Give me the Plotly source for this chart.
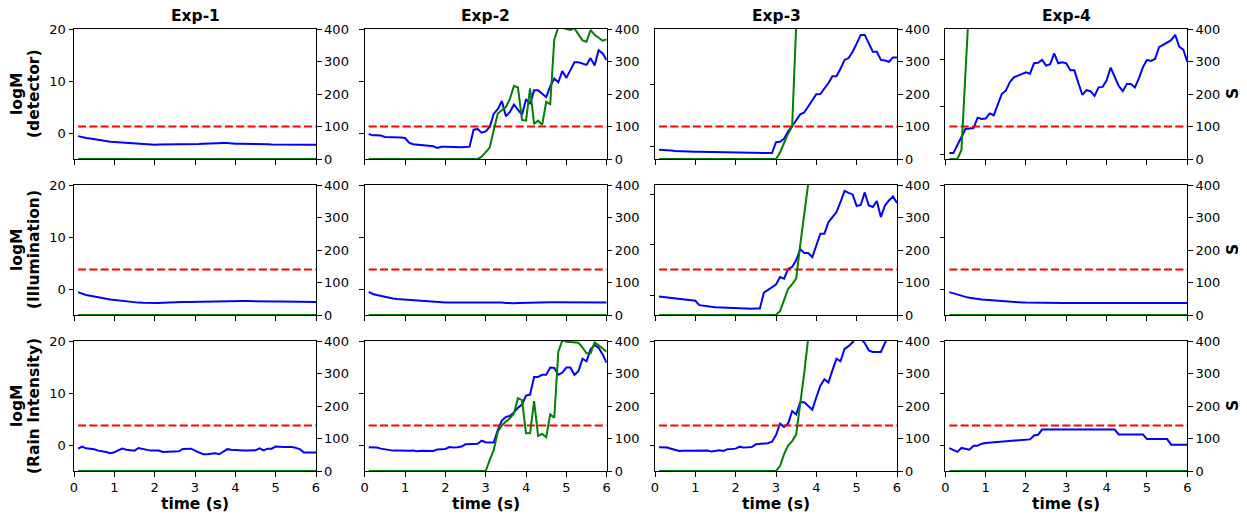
import plotly.graph_objects as go

# ---------------- data ----------------
T = [round(0.1 * i, 1) for i in range(1, 61)]          # time (s)
EXPERIMENTS = ["Exp-1", "Exp-2", "Exp-3", "Exp-4"]
ROW_NAMES = ["(detector)", "(Illumination)", "(Rain Intensity)"]
THRESHOLD_S = [100, 140, 140]                          # red dashed level per row (S axis)
X_TICKS = [0, 1, 2, 3, 4, 5, 6]
S_TICKS = [0, 100, 200, 300, 400]
LOGM_TICKS = [0, 10, 20]
LOGM_FIXED = [-5, 20]

# logM (blue), row 1
B_1_1 = [-0.6, -0.8, -0.95, -1.05, -1.2, -1.35, -1.5, -1.6, -1.7, -1.75,
         -1.8, -1.85, -1.9, -1.95, -2.0, -2.05, -2.15, -2.2, -2.25, -2.25,
         -2.2, -2.2, -2.2, -2.15, -2.2, -2.15, -2.1, -2.1, -2.1, -2.15,
         -2.1, -2.05, -2.0, -2.05, -2.0, -1.95, -1.9, -1.9, -2.0, -2.05,
         -2.05, -2.05, -2.1, -2.05, -2.1, -2.1, -2.15, -2.15, -2.2, -2.2,
         -2.2, -2.25, -2.25, -2.25, -2.25, -2.25, -2.25, -2.25, -2.25, -2.25]
B_1_2 = [-0.2, -0.45, -0.45, -0.5, -0.77, -0.77, -0.9, -0.8, -0.85, -0.96,
         -1.86, -2.15, -2.25, -2.3, -2.4, -2.45, -2.55, -2.88, -2.63, -2.65,
         -2.7, -2.7, -2.75, -2.76, -2.7, -2.63, 0.64, 0.77, 0.06, 0.3,
         1.15, 3.72, 4.6, 6.15, 3.2, 4.04, 5.45, 4.36, 3.5, 6.5,
         5.6, 8.2, 8.2, 7.56, 6.9, 8.97, 10.45, 9.74, 11.9, 10.6,
         12.2, 13.6, 13.6, 13.4, 13.1, 14.4, 13.0, 15.9, 15.3, 14.0]
B_1_3 = [-0.48, -0.5, -0.53, -0.6, -0.68, -0.72, -0.73, -0.75, -0.76, -0.78,
         -0.79, -0.8, -0.81, -0.82, -0.84, -0.86, -0.88, -0.9, -0.93, -0.96,
         -0.95, -0.94, -0.92, -0.9, -0.9, -0.9, -0.92, -0.95, -1.0, 0.75,
         0.8, 1.3, 2.5, 3.3, 4.3, 5.2, 5.5, 6.5, 7.3, 8.4,
         8.45, 9.3, 10.2, 11.3, 11.3, 12.5, 13.9, 14.2, 15.2, 16.5,
         17.9, 17.9, 16.5, 15.2, 15.2, 13.9, 13.8, 13.6, 14.3, 14.3]
B_1_4 = [0.2, 0.2, 1.9, 3.6, 5.3, 5.4, 5.5, 7.7, 7.4, 7.5,
         8.6, 8.2, 10.5, 12.7, 13.4, 15.2, 16.2, 16.6, 16.9, 17.3,
         17.0, 19.2, 19.3, 19.9, 18.7, 19.0, 21.3, 19.2, 19.4, 19.2,
         17.7, 17.7, 15.0, 12.5, 13.5, 13.3, 12.3, 14.1, 14.2, 15.6,
         18.3, 16.2, 14.4, 13.3, 14.8, 14.8, 14.1, 16.0, 18.4, 19.9,
         19.7, 20.1, 22.6, 23.1, 23.6, 24.1, 25.2, 22.7, 22.1, 19.5]
# logM (blue), row 2
B_2_1 = [-0.6, -0.95, -1.15, -1.3, -1.48, -1.62, -1.75, -1.88, -2.0, -2.1,
         -2.25, -2.35, -2.45, -2.5, -2.57, -2.62, -2.65, -2.68, -2.72, -2.74,
         -2.7, -2.65, -2.6, -2.58, -2.56, -2.54, -2.52, -2.5, -2.48, -2.45,
         -2.42, -2.38, -2.35, -2.33, -2.31, -2.3, -2.28, -2.25, -2.23, -2.24,
         -2.27, -2.3, -2.32, -2.35, -2.38, -2.4, -2.42, -2.43, -2.43, -2.42,
         -2.42, -2.42, -2.42, -2.4, -2.37, -2.35, -2.38, -2.42, -2.46, -2.48]
B_2_2 = [-0.57, -0.95, -1.15, -1.35, -1.55, -1.72, -1.82, -1.9, -1.97, -2.03,
         -2.1, -2.17, -2.22, -2.27, -2.33, -2.4, -2.45, -2.52, -2.56, -2.6,
         -2.6, -2.58, -2.56, -2.55, -2.55, -2.55, -2.55, -2.57, -2.58, -2.6,
         -2.58, -2.56, -2.55, -2.58, -2.68, -2.74, -2.72, -2.7, -2.67, -2.62,
         -2.57, -2.55, -2.55, -2.55, -2.55, -2.55, -2.55, -2.56, -2.56, -2.55,
         -2.55, -2.55, -2.55, -2.56, -2.57, -2.57, -2.57, -2.58, -2.58, -2.6]
B_2_3 = [-0.26, -0.35, -0.46, -0.52, -0.6, -0.8, -0.84, -0.86, -1.0, -1.13,
         -2.0, -2.15, -2.25, -2.33, -2.4, -2.45, -2.5, -2.56, -2.62, -2.67,
         -2.72, -2.76, -2.78, -2.72, -2.68, -2.65, 0.5, 1.05, 1.7, 2.1,
         3.58, 3.25, 5.2, 5.6, 6.9, 9.14, 8.34, 8.34, 7.55, 10.07,
         12.2, 12.2, 14.5, 15.5, 16.5, 18.5, 20.7, 20.3, 20.0, 17.7,
         17.9, 20.4, 17.8, 17.5, 18.7, 15.5, 17.8, 18.8, 19.6, 18.3]
B_2_4 = [-0.6, -0.85, -1.1, -1.35, -1.52, -1.68, -1.82, -1.92, -2.0, -2.08,
         -2.15, -2.22, -2.28, -2.34, -2.4, -2.45, -2.5, -2.55, -2.59, -2.62,
         -2.64, -2.66, -2.67, -2.67, -2.67, -2.68, -2.68, -2.68, -2.68, -2.68,
         -2.68, -2.68, -2.7, -2.72, -2.72, -2.74, -2.72, -2.72, -2.7, -2.68,
         -2.68, -2.67, -2.67, -2.67, -2.67, -2.67, -2.67, -2.67, -2.67, -2.67,
         -2.66, -2.65, -2.64, -2.63, -2.62, -2.62, -2.62, -2.62, -2.64, -2.67]
# logM (blue), row 3
B_3_1 = [-0.7, -0.32, -0.64, -0.7, -0.83, -1.08, -1.15, -1.34, -1.6, -1.4,
         -1.0, -0.7, -0.9, -0.96, -1.08, -0.57, -0.75, -0.9, -1.08, -1.08,
         -1.05, -1.34, -1.3, -1.3, -1.34, -1.21, -0.76, -0.72, -0.7, -1.1,
         -1.46, -1.78, -1.78, -1.75, -1.6, -1.78, -1.21, -0.8, -0.9, -1.0,
         -1.05, -1.08, -1.08, -1.05, -1.02, -0.64, -1.02, -0.7, -0.7, -0.3,
         -0.38, -0.38, -0.38, -0.38, -0.55, -0.8, -1.46, -1.46, -1.46, -1.46]
B_3_2 = [-0.44, -0.45, -0.5, -0.7, -0.85, -1.05, -1.08, -1.08, -1.12, -1.14,
         -1.1, -1.08, -1.2, -1.1, -1.08, -1.02, -1.14, -0.85, -0.82, -0.75,
         -0.38, -0.5, -0.45, -0.3, 0.13, 0.16, 0.19, 0.25, 0.82, 0.55,
         0.5, 0.5, 2.85, 4.7, 5.38, 5.57, 6.27, 7.15, 7.78, 9.5,
         9.7, 13.1, 13.1, 13.5, 13.5, 14.9, 14.8, 13.5, 13.9, 14.9,
         14.9, 13.5, 14.2, 16.6, 16.1, 18.4, 19.2, 18.7, 17.4, 15.8]
B_3_3 = [-0.44, -0.47, -0.5, -0.72, -0.95, -1.14, -1.1, -1.08, -1.2, -1.16,
         -1.14, -1.1, -1.08, -1.27, -1.15, -1.01, -1.14, -0.8, -0.76, -0.7,
         -0.32, -0.5, -0.45, -0.38, 0.13, 0.16, 0.19, 0.35, 0.63, 1.9,
         4.11, 3.48, 4.11, 6.52, 5.89, 8.23, 8.23, 7.4, 6.77, 9.18,
         11.4, 12.66, 12.0, 14.4, 16.6, 16.1, 18.5, 19.0, 19.75, 21.0,
         20.5, 19.6, 18.2, 17.9, 17.9, 17.9, 19.6, 21.0, 21.5, 22.0]
B_3_4 = [-0.6, -0.95, -1.33, -0.57, -0.7, -0.89, -0.13, -0.13, 0.25, 0.4,
         None, None, None, None, None, None, None, None, None, None,
         1.08, 1.84, 1.96, 2.97, 2.97, 2.97, 2.97, 2.97, 2.97, 2.97,
         2.97, 2.97, 2.97, 2.97, 2.97, 2.97, 2.97, 2.97, 2.97, 2.97,
         2.97, 2.97, 2.03, 2.03, 2.03, 2.03, 2.03, 2.03, 2.03, 1.14,
         1.14, 1.14, 1.14, 1.14, 1.14, 0.06, 0.06, 0.06, 0.06, 0.06]

# S (green)
G_ZERO = [0] * 60
G_1_2 = [0] * 28 + [7, 20, 35, 89, 140, 150, 160, 185, 225, 220, 120, 118,
                    217, 108, 118, 105, 176, 169, 368, 405, 404, 400,
                    397, 402, 385, 365, 361, 397, 382, 372, 364, 368]
G_1_3 = [0] * 30 + [20, 50, 78, 100, 410] + [None] * 25
G_1_4 = [0, 0, 0, 28, 250, 500] + [None] * 54
G_2_3 = [0] * 30 + [12, 48, 80, 95, 112, 215, 313, 405] + [None] * 22
G_3_2 = [0] * 30 + [34, 65, 121, 140, 152, 162, 177, 224, 218, 116,
                    116, 215, 108, 114, 104, 174, 164, 367, 402, 398,
                    397, 395, 395, 380, 362, 362, 395, 387, 377, 367]
G_3_3 = [0] * 30 + [15, 52, 78, 92, 112, 205, 302, 410] + [None] * 22

BLUE = [[B_1_1, B_1_2, B_1_3, B_1_4],
        [B_2_1, B_2_2, B_2_3, B_2_4],
        [B_3_1, B_3_2, B_3_3, B_3_4]]
GREEN = [[G_ZERO, G_1_2, G_1_3, G_1_4],
         [G_ZERO, G_ZERO, G_2_3, G_ZERO],
         [G_ZERO, G_3_2, G_3_3, G_ZERO]]
AUTOSCALED = {(0, 2), (0, 3), (1, 2)}   # panels whose logM axis follows its data

# ---------------- layout geometry (pixels) ----------------
W, H = 1247, 514
COL_LEFT = [74, 364.7, 655, 945.3]
COL_W = 242
ROW_TOP = [29, 185, 341]
ROW_H = 130
FONT = "DejaVu Sans"
TICKFONT = dict(family=FONT, size=13, color="black")

fig = go.Figure()
layout = dict(
    width=W, height=H, autosize=False,
    margin=dict(l=0, r=0, t=0, b=0, autoexpand=False),
    paper_bgcolor="white", plot_bgcolor="white",
    showlegend=False,
    font=dict(family=FONT, color="black"),
)
annotations = []

def ax_common():
    return dict(ticks="outside", ticklen=4.5, tickwidth=1, tickcolor="black",
                showline=True, linecolor="black", linewidth=1, automargin=False,
                showgrid=False, zeroline=False, tickfont=TICKFONT)

for r in range(3):
    for c in range(4):
        k = r * 4 + c
        xn = "x" if k == 0 else f"x{k + 1}"
        yl = "y" if k == 0 else f"y{2 * k + 1}"
        yr = f"y{2 * k + 2}"
        x0 = COL_LEFT[c] / W
        x1 = (COL_LEFT[c] + COL_W) / W
        y1 = 1 - ROW_TOP[r] / H
        y0 = 1 - (ROW_TOP[r] + ROW_H) / H

        blue = BLUE[r][c]
        green = GREEN[r][c]
        if (r, c) in AUTOSCALED:
            vals = [v for v in blue if v is not None]
            lo, hi = min(vals), max(vals)
            pad = 0.05 * (hi - lo)
            yrange = [lo - pad, hi + pad]
        else:
            yrange = LOGM_FIXED

        fig.add_trace(go.Scatter(x=T, y=blue, mode="lines", connectgaps=True,
                                 line=dict(color="blue", width=2),
                                 xaxis=xn, yaxis=yl))
        fig.add_trace(go.Scatter(x=T, y=[THRESHOLD_S[r]] * len(T), mode="lines",
                                 line=dict(color="red", width=2, dash="8px,3.3px"),
                                 xaxis=xn, yaxis=yr))
        fig.add_trace(go.Scatter(x=T, y=green, mode="lines",
                                 line=dict(color="green", width=2),
                                 xaxis=xn, yaxis=yr))

        xkey = "xaxis" if k == 0 else f"xaxis{k + 1}"
        ylkey = "yaxis" if k == 0 else f"yaxis{2 * k + 1}"
        yrkey = f"yaxis{2 * k + 2}"
        layout[xkey] = dict(domain=[x0, x1], anchor=yl, range=[0, 6],
                            tickvals=X_TICKS, showticklabels=(r == 2),
                            mirror=True, **ax_common())
        layout[ylkey] = dict(domain=[y0, y1], anchor=xn, range=yrange,
                             tickvals=LOGM_TICKS, showticklabels=(c == 0),
                             mirror=True, **ax_common())
        layout[yrkey] = dict(overlaying=yl, side="right", anchor=xn,
                             range=[0, 400], tickvals=S_TICKS,
                             showticklabels=True, **ax_common())

        # titles / labels
        xc = (COL_LEFT[c] + COL_W / 2) / W
        yc = 1 - (ROW_TOP[r] + ROW_H / 2) / H
        if r == 0:
            annotations.append(dict(text=f"<b>{EXPERIMENTS[c]}</b>", x=xc, y=1 - 16 / H,
                                    xref="paper", yref="paper", showarrow=False,
                                    xanchor="center", yanchor="middle",
                                    font=dict(family=FONT, size=15.5, color="black")))
        if r == 2:
            annotations.append(dict(text="<b>time (s)</b>", x=xc, y=1 - 504 / H,
                                    xref="paper", yref="paper", showarrow=False,
                                    xanchor="center", yanchor="middle",
                                    font=dict(family=FONT, size=15.5, color="black")))
        if c == 0:
            for txt, px in (("logM", 17), (ROW_NAMES[r], 34)):
                annotations.append(dict(text=f"<b>{txt}</b>", x=px / W, y=yc,
                                        xref="paper", yref="paper", showarrow=False,
                                        xanchor="center", yanchor="middle", textangle=-90,
                                        font=dict(family=FONT, size=15.5, color="black")))
        if c == 3:
            annotations.append(dict(text="<b>S</b>", x=1233 / W, y=yc,
                                    xref="paper", yref="paper", showarrow=False,
                                    xanchor="center", yanchor="middle", textangle=-90,
                                    font=dict(family=FONT, size=15.5, color="black")))

layout["annotations"] = annotations
fig.update_layout(**layout)
fig.write_html(
    "out.html",
    config={"displayModeBar": False},
    post_script="document.body.style.margin='0px';document.body.style.overflow='hidden';",
)
